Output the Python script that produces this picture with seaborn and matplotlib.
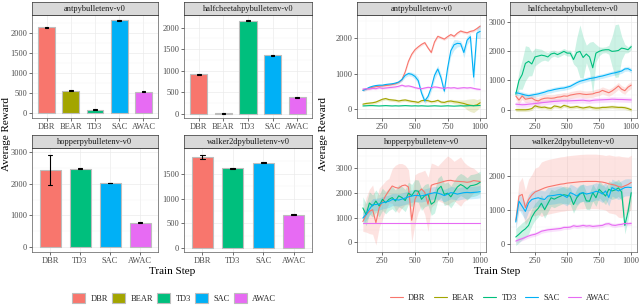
import matplotlib
matplotlib.use("Agg")
import matplotlib.pyplot as plt
from matplotlib.lines import Line2D
from matplotlib.patches import Patch
from matplotlib.ticker import AutoMinorLocator, FixedLocator
import seaborn as sns
import pandas as pd

sns.set_theme(style="white")
plt.rcParams['font.family'] = ['Liberation Serif', 'DejaVu Serif']

# ---------------- data ----------------
algos = ['DBR', 'BEAR', 'TD3', 'SAC', 'AWAC']
colors = ['#F8766D', '#A3A500', '#00BF7D', '#00B0F6', '#E76BF3']
envs = ['antpybulletenv-v0', 'halfcheetahpybulletenv-v0',
        'hopperpybulletenv-v0', 'walker2dpybulletenv-v0']

# final rewards (bar panels)
ant_bar = [2130, 560, 90, 2300, 540]
ant_bar_err = [15, 10, 15, 15, 10]
hc_bar = [925, 15, 2163, 1360, 383]
hc_bar_err = [10, 10, 10, 10, 15]
hop_bar = [2420, 2463, 2018, 776]
hop_bar_err = [470, 20, 10, 15]
wk_bar = [1840, 1614, 1726, 674]
wk_bar_err = [35, 10, 10, 10]

# training curves (line panels)
steps = list(range(100, 1001, 25))

ant_dbr = [530, 560, 590, 610, 630, 640, 650, 660, 670, 690, 710, 750, 830, 1050, 1350, 1550, 1680, 1760, 1830,
           1880, 1730, 1600, 1900, 2060, 2020, 1980, 2050, 2110, 2060, 2150, 2210, 2180, 2160, 2200, 2220, 2280, 2350]
ant_bear = [130, 150, 160, 170, 190, 230, 270, 290, 260, 250, 240, 220, 240, 250, 230, 210, 200, 180, 230,
            240, 230, 200, 210, 240, 190, 180, 210, 220, 200, 190, 170, 150, 120, 100, 90, 110, 170]
ant_td3 = [80, 85, 90, 90, 85, 80, 85, 90, 85, 80, 85, 80, 85, 90, 85, 80, 85, 80, 85,
           80, 75, 80, 85, 80, 75, 80, 85, 80, 75, 80, 85, 80, 85, 90, 85, 90, 95]
ant_sac = [520, 560, 610, 640, 660, 670, 670, 690, 700, 710, 730, 760, 830, 950, 1000, 980, 920, 800, 450,
           220, 350, 600, 950, 1130, 880, 500, 1150, 1650, 1820, 1860, 1850, 1600, 1950, 2050, 900, 2150, 2200]
ant_awac = [560, 570, 560, 580, 570, 600, 580, 590, 600, 610, 620, 640, 670, 640, 650, 630, 600, 580, 570,
            590, 610, 600, 620, 610, 590, 580, 600, 590, 600, 580, 590, 600, 590, 600, 580, 560, 550]
ant_sd = {
    'DBR': 40,
    'BEAR': [40, 40, 40, 40, 40, 40, 40, 40, 40, 40, 40, 40, 40, 40, 40, 40, 40, 40, 40,
             40, 40, 40, 40, 40, 40, 40, 40, 50, 60, 60, 80, 100, 150, 180, 200, 150, 120],
    'TD3': 10,
    'SAC': [30, 30, 30, 30, 30, 30, 30, 30, 30, 30, 30, 40, 50, 60, 60, 60, 80, 100, 100,
            80, 80, 100, 120, 100, 100, 80, 100, 150, 150, 100, 80, 150, 120, 100, 300, 150, 200],
    'AWAC': 30,
}

hc_dbr = [470, 330, 470, 360, 380, 400, 330, 300, 360, 390, 400, 390, 400, 430, 440, 470, 460, 500, 520,
          540, 550, 530, 520, 530, 540, 580, 600, 660, 620, 580, 640, 720, 810, 700, 650, 770, 840]
hc_bear = [0, 0, 0, 0, 10, 40, 135, 100, 80, 90, 60, 50, 130, 110, 80, 150, 120, 80, 90,
           110, 80, 60, 80, 100, 70, 56, 60, 80, 80, 90, 100, 90, 80, 80, 70, 40, 0]
hc_td3 = [530, 1000, 1200, 1580, 1650, 1560, 1800, 1830, 1860, 1840, 1800, 1900, 1930, 1880, 1930, 1990, 1930, 1930, 1710,
          1950, 1990, 1780, 1900, 1800, 1430, 1930, 1990, 2030, 2045, 2045, 1990, 2000, 2020, 2100, 2080, 2045, 2150]
hc_sac = [580, 560, 530, 500, 480, 500, 520, 540, 570, 600, 640, 660, 690, 710, 730, 740, 770, 800, 860,
          920, 970, 1000, 1030, 1060, 1080, 1100, 1130, 1150, 1180, 1210, 1240, 1260, 1290, 1320, 1390, 1400, 1340]
hc_awac = [190, 180, 170, 175, 190, 200, 210, 225, 240, 250, 260, 275, 285, 290, 300, 305, 300, 305, 310,
           315, 320, 325, 310, 300, 320, 330, 335, 340, 345, 350, 360, 355, 350, 350, 345, 340, 335]
hc_sd = {
    'DBR': 120,
    'BEAR': 60,
    'TD3': [100, 300, 500, 600, 500, 400, 300, 250, 200, 150, 150, 120, 100, 100, 100, 100, 100, 100, 150,
            500, 900, 700, 300, 500, 900, 300, 150, 100, 100, 150, 500, 900, 900, 400, 150, 100, 100],
    'SAC': 80,
    'AWAC': 90,
}

hop_dbr = [850, 1120, 1260, 1330, 800, 1400, 1650, 1900, 2100, 2290, 2230, 2200, 2300, 2330, 2250, 900, 1750, 2030, 2170,
           2030, 1550, 2320, 2370, 2400, 2440, 2480, 2510, 2520, 2490, 2480, 2470, 2460, 2440, 2460, 2510, 2490, 2470]
hop_td3 = [1400, 1130, 1600, 1480, 1680, 1480, 1750, 1610, 1750, 1820, 1680, 1890, 1820, 1700, 2000, 1900, 2100, 2080, 1750,
           1900, 1950, 1550, 1650, 2150, 2280, 1950, 2000, 1850, 2050, 2250, 2350, 2280, 2170, 2300, 2320, 2360, 2440]
hop_sac = [990, 1150, 1350, 1530, 1540, 1560, 1610, 1640, 1670, 1740, 1740, 1720, 1760, 1800, 1850, 1880, 1910, 1900, 1890,
           1920, 1960, 1990, 2020, 2000, 1960, 1900, 1960, 2020, 2000, 1960, 1990, 2020, 2030, 2020, 2030, 2040, 2060]
hop_awac = [790, 790, 790, 790, 790, 790, 790, 790, 790, 790, 790, 790, 790, 790, 790, 790, 790, 790, 790,
            790, 790, 790, 790, 790, 790, 790, 790, 790, 790, 790, 790, 790, 790, 790, 790, 790, 790]
hop_sd = {
    'DBR': [400, 700, 900, 1000, 900, 800, 700, 600, 500, 700, 900, 1000, 900, 800, 700, 900, 1000, 800, 700,
            900, 1100, 900, 800, 700, 800, 900, 1000, 900, 800, 900, 1000, 800, 700, 600, 500, 400, 300],
    'TD3': 450,
    'SAC': 250,
    'AWAC': 0,
}

wk_dbr = [710, 1420, 1470, 1080, 1320, 1450, 1540, 1580, 1620, 1660, 1690, 1710, 1730, 1750, 1770, 1780, 1800, 1810, 1820,
          1830, 1840, 1845, 1850, 1850, 1850, 1850, 1840, 1830, 1810, 1780, 1760, 1740, 1700, 1680, 1720, 1760, 1820]
wk_td3 = [220, 300, 390, 460, 560, 800, 960, 1060, 1210, 1020, 1200, 1370, 1330, 1380, 1420, 1460, 1440, 1420, 1170,
          1370, 1480, 1520, 1280, 1270, 1520, 1370, 1620, 1520, 1420, 1620, 1570, 1600, 1660, 1540, 560, 960, 1520]
wk_sac = [660, 1270, 1120, 970, 1220, 1320, 1350, 1370, 1340, 1320, 1420, 1430, 1440, 1460, 1470, 1430, 1380, 1520, 1480,
          1420, 1500, 1520, 1480, 1500, 1520, 1560, 1540, 1480, 1570, 1380, 1670, 1620, 1570, 1620, 1670, 1680, 1670]
wk_awac = [100, 140, 170, 210, 250, 280, 300, 340, 390, 410, 430, 440, 450, 460, 470, 500, 500, 510, 550,
           530, 540, 560, 540, 550, 530, 540, 550, 560, 600, 610, 570, 560, 580, 590, 620, 610, 620]
wk_sd = {
    'DBR': [200, 400, 500, 500, 600, 600, 700, 700, 800, 800, 800, 800, 800, 800, 800, 800, 800, 800, 800,
            800, 800, 800, 800, 800, 800, 800, 800, 800, 800, 850, 850, 850, 900, 900, 850, 800, 800],
    'TD3': 250,
    'SAC': 250,
    'AWAC': 60,
}

bar_sets = [
    (['DBR', 'BEAR', 'TD3', 'SAC', 'AWAC'], ant_bar, ant_bar_err, (-116, 2436), [0, 500, 1000, 1500, 2000]),
    (['DBR', 'BEAR', 'TD3', 'SAC', 'AWAC'], hc_bar, hc_bar_err, (-92, 2294), [0, 500, 1000, 1500, 2000]),
    (['DBR', 'TD3', 'SAC', 'AWAC'], hop_bar, hop_bar_err, (-146, 3115), [0, 1000, 2000, 3000]),
    (['DBR', 'TD3', 'SAC', 'AWAC'], wk_bar, wk_bar_err, (-80, 2020), [0, 500, 1000, 1500]),
]
line_sets = [
    ({'DBR': ant_dbr, 'BEAR': ant_bear, 'TD3': ant_td3, 'SAC': ant_sac, 'AWAC': ant_awac}, ant_sd,
     (-263, 2666), [0, 1000, 2000]),
    ({'DBR': hc_dbr, 'BEAR': hc_bear, 'TD3': hc_td3, 'SAC': hc_sac, 'AWAC': hc_awac}, hc_sd,
     (-281, 3229), [0, 1000, 2000, 3000]),
    ({'DBR': hop_dbr, 'TD3': hop_td3, 'SAC': hop_sac, 'AWAC': hop_awac}, hop_sd,
     (-386, 3830), [0, 1000, 2000, 3000]),
    ({'DBR': wk_dbr, 'TD3': wk_td3, 'SAC': wk_sac, 'AWAC': wk_awac}, wk_sd,
     (-220, 2830), [0, 1000, 2000]),
]

palette = dict(zip(algos, colors))

# ---------------- layout helpers ----------------
W, H = 640, 306
fig = plt.figure(figsize=(W / 100, H / 100), dpi=100)


def box(x0, y0, x1, y1):
    return [x0 / W, 1 - y1 / H, (x1 - x0) / W, (y1 - y0) / H]


def style_panel(ax, yticks, ylim):
    ax.set_facecolor('white')
    ax.set_ylim(*ylim)
    ax.yaxis.set_major_locator(FixedLocator(yticks))
    ax.yaxis.set_minor_locator(AutoMinorLocator(2))
    ax.grid(which='major', color='#EBEBEB', linewidth=0.5)
    ax.grid(which='minor', color='#F4F4F4', linewidth=0.3)
    ax.set_axisbelow(True)
    for s in ax.spines.values():
        s.set_color('#5A5A5A')
        s.set_linewidth(0.5)
    ax.tick_params(which='major', labelsize=6, length=2, width=0.5, color='#333333',
                   labelcolor='#4D4D4D', pad=1.5, left=True, bottom=True)
    ax.tick_params(which='minor', length=0)
    ax.set_xlabel('')
    ax.set_ylabel('')


def strip(x0, y0, x1, y1, title):
    s = fig.add_axes(box(x0, y0, x1, y1))
    s.set_facecolor('#D9D9D9')
    s.set_xticks([])
    s.set_yticks([])
    for sp in s.spines.values():
        sp.set_color('#333333')
        sp.set_linewidth(0.5)
    s.text(0.5, 0.45, title, ha='center', va='center', fontsize=6, color='#1A1A1A',
           transform=s.transAxes)


bar_boxes = [(32, 15, 158, 118), (184, 15, 312, 118), (32, 148, 158, 252), (184, 148, 312, 252)]
line_boxes = [(357, 15, 486, 118), (510, 15, 637, 118), (357, 148, 486, 252), (510, 148, 637, 252)]

# ---------------- bar charts ----------------
for (cats, vals, errs, ylim, yt), b, env in zip(bar_sets, bar_boxes, envs):
    ax = fig.add_axes(box(*b))
    rows = []
    for c, v, e in zip(cats, vals, errs):
        rows.append({'algo': c, 'reward': v - e})
        rows.append({'algo': c, 'reward': v + e})
    df = pd.DataFrame(rows)
    sns.barplot(data=df, x='algo', y='reward', hue='algo', order=cats, hue_order=cats,
                palette=palette, saturation=1, errorbar=('pi', 100), width=0.7, capsize=0.15,
                err_kws={'color': 'black', 'linewidth': 0.8},
                edgecolor='#BDBDBD', linewidth=0.8, legend=False, ax=ax)
    style_panel(ax, yt, ylim)
    ax.set_xlim(-0.6, len(cats) - 0.4)
    ax.grid(axis='x', which='minor', visible=False)
    strip(b[0], b[1] - 13, b[2], b[1], env)

# ---------------- line charts ----------------
for (series, sds, ylim, yt), b, env in zip(line_sets, line_boxes, envs):
    ax = fig.add_axes(box(*b))
    rows = []
    for algo, vals in series.items():
        sd = sds[algo]
        sd = sd if isinstance(sd, list) else [sd] * len(vals)
        for st, v, d in zip(steps, vals, sd):
            rows.append({'step': st, 'reward': v - d, 'algo': algo})
            rows.append({'step': st, 'reward': v + d, 'algo': algo})
    df = pd.DataFrame(rows)
    order = [a for a in algos if a in series]
    sns.lineplot(data=df, x='step', y='reward', hue='algo', hue_order=order, palette=palette,
                 errorbar=('pi', 100), linewidth=0.8, legend=False, ax=ax,
                 err_kws={'alpha': 0.2, 'linewidth': 0})
    style_panel(ax, yt, ylim)
    ax.set_xlim(55, 1045)
    ax.xaxis.set_major_locator(FixedLocator([250, 500, 750, 1000]))
    ax.xaxis.set_minor_locator(FixedLocator([125, 375, 625, 875]))
    strip(b[0], b[1] - 13, b[2], b[1], env)

# ---------------- shared labels and legends ----------------
for xc, yl in [(172, 7), (497, 323)]:
    fig.text(xc / W, 1 - 272 / H, 'Train Step', ha='center', va='center', fontsize=8, color='black')
    fig.text(yl / W, 1 - 134 / H, 'Average Reward', ha='center', va='center', rotation=90,
             fontsize=8, color='black')

bar_handles = [Patch(facecolor=c, edgecolor='#BDBDBD', linewidth=0.8) for c in colors]
fig.legend(bar_handles, algos, loc='center', bbox_to_anchor=(174 / W, 1 - 298 / H), ncol=5,
           frameon=False, fontsize=6, handlelength=1.6, handleheight=1.6, columnspacing=0.5,
           handletextpad=0.6)
line_handles = [Line2D([0], [0], color=c, linewidth=0.8) for c in colors]
fig.legend(line_handles, algos, loc='center', bbox_to_anchor=(500 / W, 1 - 298 / H), ncol=5,
           frameon=False, fontsize=6, handlelength=1.6, columnspacing=1.0, handletextpad=0.6)

fig.savefig('out.png', dpi=100)
